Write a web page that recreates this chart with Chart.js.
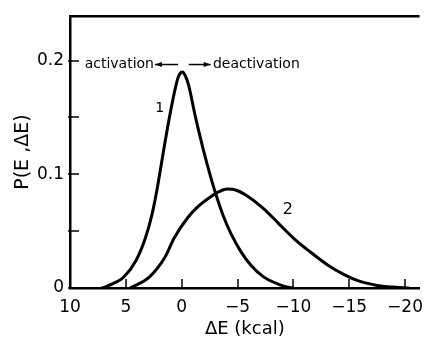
<!DOCTYPE html>
<html>
<head>
<meta charset="utf-8">
<script src="https://cdn.jsdelivr.net/npm/chart.js@4.4.0/dist/chart.umd.min.js"></script>
<style>
  html, body { margin: 0; padding: 0; background: #fff; }
  #wrap { width: 432px; height: 341px; }
</style>
</head>
<body>
<div id="wrap"><canvas id="chart"></canvas></div>
<script>
// Curve 1 and curve 2 (x = ΔE in kcal, y = P(E,ΔE))
const curve1X = [7.1, 6.1, 5.25, 4.1, 3.25, 2.65, 2.2, 1.6, 1.1, 0.49, 0.25, -0.07, -0.35, -0.63, -1.24, -1.93, -2.7, -3.14, -3.7, -4.4, -5.3, -6.2, -7.3, -8.75, -9.4, -10.0];
const curve1Y = [0, 0.004, 0.009, 0.024, 0.044, 0.065, 0.087, 0.122, 0.150, 0.179, 0.187, 0.190, 0.186, 0.178, 0.150, 0.122, 0.094, 0.080, 0.064, 0.048, 0.032, 0.020, 0.010, 0.003, 0.001, 0];
const curve2X = [4.6, 2.9, 1.5, 0.67, -0.55, -1.5, -2.7, -3.4, -4.1, -4.9, -5.7, -7.3, -8.75, -10.1, -11.6, -13.1, -14.5, -15.9, -17.4, -18.8, -20.3];
const curve2Y = [0, 0.0096, 0.027, 0.044, 0.062, 0.072, 0.081, 0.085, 0.087, 0.086, 0.082, 0.070, 0.056, 0.043, 0.031, 0.020, 0.012, 0.006, 0.0025, 0.0008, 0];

const xTicks = [10, 5, 0, -5, -10, -15, -20];
const xRange = [-21.3, 10];
const yTicks = [0, 0.05, 0.1, 0.15, 0.2];
const yLabels = ['0', '', '0.1', '', '0.2'];
const yRange = [0, 0.239];

// text notes, placed in data units
const notes = [
    { text: 'activation', x: 2.48, y: 0.1965, align: 'right', size: 14 },
    { text: 'deactivation', x: -2.8, y: 0.1965, align: 'left', size: 14 },
    { text: '1', x: 1.96, y: 0.158, align: 'center', size: 14 },
    { text: '2', x: -9.5, y: 0.069, align: 'center', size: 16 }
];
const arrows = [
    { from: 0.32, to: 2.4, y: 0.1965 },
    { from: -0.63, to: -2.6, y: 0.1965 }
];

const FONT = "'DejaVu Sans', sans-serif";
const INK = '#000';

const toPoints = (xs, ys) => xs.map((x, i) => ({ x, y: ys[i] }));

const framePlugin = {
    id: 'frame',
    afterDraw(chart) {
        const { ctx, chartArea: a, scales: { x, y } } = chart;
        ctx.save();
        ctx.strokeStyle = INK;
        // top line of the frame
        ctx.lineWidth = 2.5;
        ctx.beginPath();
        ctx.moveTo(a.left - 1, a.top);
        ctx.lineTo(a.right, a.top);
        ctx.stroke();
        // inward tick marks
        ctx.lineWidth = 1.5;
        xTicks.forEach(v => {
            const px = Math.round(x.getPixelForValue(v));
            ctx.beginPath();
            ctx.moveTo(px, a.bottom);
            ctx.lineTo(px, a.bottom - 9);
            ctx.stroke();
        });
        yTicks.forEach(v => {
            const py = Math.round(y.getPixelForValue(v));
            ctx.beginPath();
            ctx.moveTo(a.left - 2, py);
            ctx.lineTo(a.left + 9, py);
            ctx.stroke();
        });
        // notes and arrows
        ctx.fillStyle = INK;
        ctx.textBaseline = 'middle';
        notes.forEach(n => {
            ctx.font = `${n.size}px ${FONT}`;
            ctx.textAlign = n.align;
            ctx.fillText(n.text, x.getPixelForValue(n.x), y.getPixelForValue(n.y));
        });
        arrows.forEach(r => {
            const x0 = x.getPixelForValue(r.from), x1 = x.getPixelForValue(r.to);
            const py = y.getPixelForValue(r.y);
            const dir = Math.sign(x1 - x0);
            ctx.lineWidth = 1.5;
            ctx.beginPath();
            ctx.moveTo(x0, py);
            ctx.lineTo(x1, py);
            ctx.stroke();
            ctx.beginPath();
            ctx.moveTo(x1, py);
            ctx.lineTo(x1 - dir * 7, py - 2.5);
            ctx.lineTo(x1 - dir * 7, py + 2.5);
            ctx.closePath();
            ctx.fill();
        });
        ctx.restore();
    }
};

new Chart(document.getElementById('chart'), {
    type: 'line',
    data: {
        datasets: [
            { label: '1', data: toPoints(curve1X, curve1Y) },
            { label: '2', data: toPoints(curve2X, curve2Y) }
        ]
    },
    options: {
        responsive: true,
        maintainAspectRatio: false,
        animation: false,
        layout: { padding: { top: 13, right: 0, left: 0, bottom: 0 } },
        elements: {
            line: { borderColor: INK, borderWidth: 3, cubicInterpolationMode: 'monotone', borderCapStyle: 'round', borderJoinStyle: 'round' },
            point: { radius: 0 }
        },
        plugins: { legend: { display: false }, tooltip: { enabled: false } },
        scales: {
            x: {
                type: 'linear',
                reverse: true,
                min: xRange[0],
                max: xRange[1],
                afterBuildTicks: s => { s.ticks = xTicks.map(v => ({ value: v })); },
                afterFit: s => { s.height = 53; },
                grid: { display: true, drawOnChartArea: false, drawTicks: false },
                border: { display: true, color: INK, width: 2.5 },
                ticks: {
                    autoSkip: false, maxRotation: 0, padding: 9, color: INK,
                    font: { family: FONT, size: 17 },
                    callback: v => v < 0 ? '\u2212' + Math.abs(v) : String(v)
                },
                title: { display: true, text: '\u0394E (kcal)', color: INK, font: { family: FONT, size: 18 }, padding: { top: 0, bottom: 1 } }
            },
            y: {
                type: 'linear',
                min: yRange[0],
                max: yRange[1],
                afterBuildTicks: s => { s.ticks = yTicks.map(v => ({ value: v })); },
                afterFit: s => { s.width = 70; },
                grid: { display: true, drawOnChartArea: false, drawTicks: false },
                border: { display: true, color: INK, width: 2.5 },
                ticks: {
                    autoSkip: false, padding: 6, color: INK,
                    font: { family: FONT, size: 17 },
                    callback: (v, i) => yLabels[i]
                },
                title: { display: true, text: 'P(E ,\u0394E)', color: INK, font: { family: FONT, size: 19 }, padding: { top: 12, bottom: 0 } }
            }
        }
    },
    plugins: [framePlugin]
});
</script>
</body>
</html>
